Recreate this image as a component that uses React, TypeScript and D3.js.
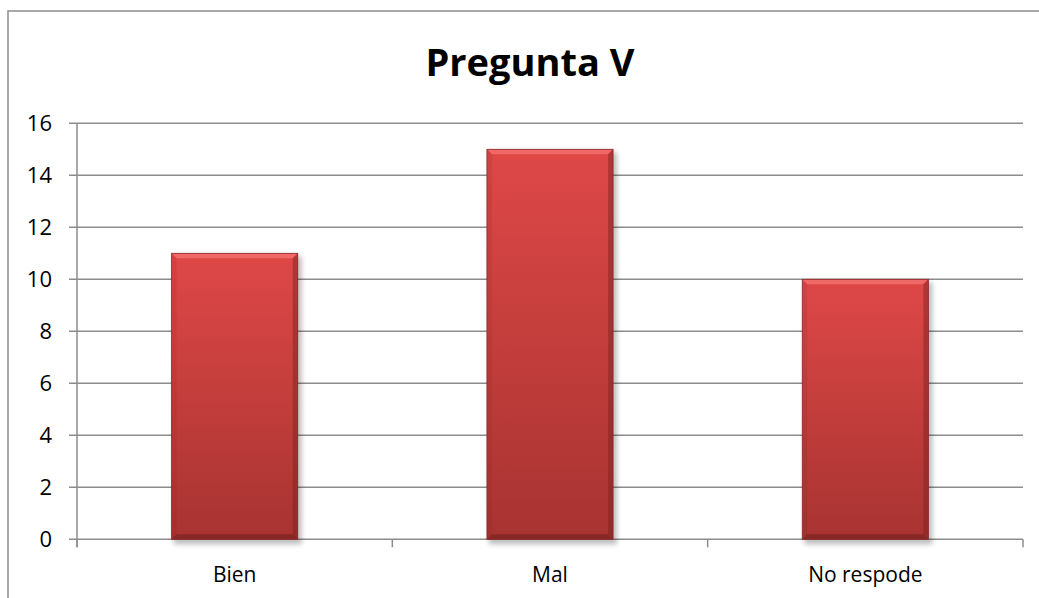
import React, { useRef, useEffect } from 'react';
import { select, scaleLinear, scaleBand, range } from 'd3';

const categories = ['Bien', 'Mal', 'No respode'];
const values = [11, 15, 10];
const yTicks = [0, 2, 4, 6, 8, 10, 12, 14, 16];
const title = 'Pregunta V';

const dim = {
  width: 1039,
  height: 598,
  left: 77,
  right: 1023,
  top: 123.3,
  bottom: 539.3,
};

const FONT = '"Open Sans", "Liberation Sans", sans-serif';
const GRID = '#8c8c8c';

const App = () => {
  const svgRef = useRef(null);

  useEffect(() => {
    const svg = select(svgRef.current);
    svg.selectAll('*').remove();

    const x = scaleBand<string>()
      .domain(categories)
      .range([dim.left, dim.right])
      .paddingInner(0.6)
      .paddingOuter(0.3);

    const y = scaleLinear().domain([0, 16]).range([dim.bottom, dim.top]);

    const defs = svg.append('defs');
    const grad = defs
      .append('linearGradient')
      .attr('id', 'barFill')
      .attr('x1', 0)
      .attr('y1', 0)
      .attr('x2', 0)
      .attr('y2', 1);
    grad.append('stop').attr('offset', 0).attr('stop-color', '#de4847');
    grad.append('stop').attr('offset', 1).attr('stop-color', '#a73331');

    const blur = defs.append('filter').attr('id', 'shadow').attr('x', -0.2).attr('y', -0.2).attr('width', 1.4).attr('height', 1.4);
    blur.append('feGaussianBlur').attr('stdDeviation', 2.5);

    // chart border
    svg
      .append('rect')
      .attr('x', 8)
      .attr('y', 11)
      .attr('width', 1200)
      .attr('height', 800)
      .attr('fill', 'none')
      .attr('stroke', GRID)
      .attr('stroke-width', 1.5);

    svg
      .append('text')
      .attr('x', 530)
      .attr('y', 76)
      .attr('text-anchor', 'middle')
      .style('font-family', FONT)
      .style('font-weight', 700)
      .style('font-size', '38px')
      .attr('fill', '#000')
      .text(title);

    // gridlines + y ticks
    const grid = svg.append('g');
    grid
      .selectAll('line')
      .data(yTicks)
      .join('line')
      .attr('x1', dim.left - 8)
      .attr('x2', dim.right)
      .attr('y1', (d) => y(d))
      .attr('y2', (d) => y(d))
      .attr('stroke', GRID)
      .attr('stroke-width', 1.5);

    grid
      .selectAll('text')
      .data(yTicks)
      .join('text')
      .attr('x', 52)
      .attr('y', (d) => y(d))
      .attr('dy', '0.36em')
      .attr('text-anchor', 'end')
      .style('font-family', FONT)
      .style('font-size', '22px')
      .attr('fill', '#000')
      .text((d) => d);

    // axes
    svg
      .append('line')
      .attr('x1', dim.left)
      .attr('x2', dim.left)
      .attr('y1', dim.top)
      .attr('y2', dim.bottom + 8)
      .attr('stroke', GRID)
      .attr('stroke-width', 1.5);

    const step = x.step();
    svg
      .append('g')
      .selectAll('line')
      .data(range(categories.length + 1))
      .join('line')
      .attr('x1', (i) => dim.left + i * step)
      .attr('x2', (i) => dim.left + i * step)
      .attr('y1', dim.bottom)
      .attr('y2', dim.bottom + 8)
      .attr('stroke', GRID)
      .attr('stroke-width', 1.5);

    // bars
    const bars = svg
      .append('g')
      .selectAll('g')
      .data(values)
      .join('g')
      .attr('transform', (d, i) => `translate(${x(categories[i])},${y(d)})`);

    const bw = x.bandwidth();
    const h = (d: number) => y(0) - y(d);
    const b = 5;

    bars
      .append('rect')
      .attr('x', 2)
      .attr('y', 3)
      .attr('width', bw + 2)
      .attr('height', (d) => h(d) + 2)
      .attr('fill', '#000')
      .attr('opacity', 0.25)
      .attr('filter', 'url(#shadow)');

    bars
      .append('rect')
      .attr('width', bw)
      .attr('height', (d) => h(d))
      .attr('fill', 'url(#barFill)');

    // bevel edges
    bars
      .append('path')
      .attr('d', `M0,0 L${bw},0 L${bw - b},${b} L${b},${b} Z`)
      .attr('fill', '#f36f6d')
      .attr('opacity', 0.85);
    bars
      .append('path')
      .attr('d', (d) => `M${bw},0 L${bw},${h(d)} L${bw - b},${h(d) - b} L${bw - b},${b} Z`)
      .attr('fill', '#7a2220')
      .attr('opacity', 0.45);
    bars
      .append('path')
      .attr('d', (d) => `M0,0 L${b},${b} L${b},${h(d) - b} L0,${h(d)} Z`)
      .attr('fill', '#7a2220')
      .attr('opacity', 0.12);
    bars
      .append('path')
      .attr('d', (d) => `M0,${h(d)} L${b},${h(d) - b} L${bw - b},${h(d) - b} L${bw},${h(d)} Z`)
      .attr('fill', '#6e1f1d')
      .attr('opacity', 0.55);
    bars
      .append('rect')
      .attr('width', bw)
      .attr('height', (d) => h(d))
      .attr('fill', 'none')
      .attr('stroke', '#8a2a28')
      .attr('stroke-width', 0.8);

    // category labels
    svg
      .append('g')
      .selectAll('text')
      .data(categories)
      .join('text')
      .attr('x', (d) => (x(d) as number) + bw / 2)
      .attr('y', 582)
      .attr('text-anchor', 'middle')
      .style('font-family', FONT)
      .style('font-size', '21px')
      .attr('fill', '#000')
      .text((d) => d);
  }, []);

  return (
    <svg
      ref={svgRef}
      width={dim.width}
      height={dim.height}
      style={{ position: 'absolute', left: 0, top: 0, background: '#fff' }}
    />
  );
};

export default App;
